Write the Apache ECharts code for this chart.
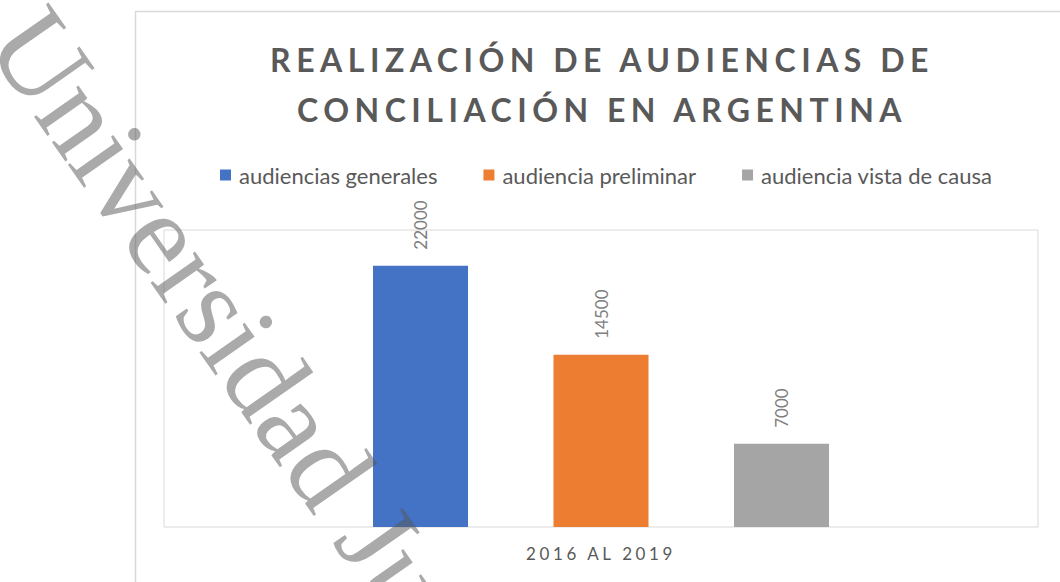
<!DOCTYPE html>
<html>
<head>
<meta charset="utf-8">
<script src="https://cdn.jsdelivr.net/npm/echarts@6/dist/echarts.min.js"></script>
<style>
html,body{margin:0;padding:0;background:#fff;}
#chart{width:1060px;height:582px;}
</style>
</head>
<body>
<div id="chart"></div>
<script>
var titleLines = ['REALIZACIÓN DE AUDIENCIAS DE', 'CONCILIACIÓN EN ARGENTINA'];
var categories = ['2016 AL 2019'];
var seriesNames = ['audiencias generales', 'audiencia preliminar', 'audiencia vista de causa'];
var valuesGenerales = [22000];
var valuesPreliminar = [14500];
var valuesVistaCausa = [7000];
var seriesColors = ['#4472C4', '#ED7D31', '#A5A5A5'];
var watermarkText = 'Universidad Ju';

var chart = echarts.init(document.getElementById('chart'), null, {renderer: 'svg'});

var seriesValues = [valuesGenerales, valuesPreliminar, valuesVistaCausa];
var series = seriesNames.map(function (name, i) {
  return {
    name: name,
    type: 'bar',
    data: seriesValues[i],
    barWidth: 95,
    barGap: '90%',
    itemStyle: {color: seriesColors[i]},
    label: {
      show: true,
      position: 'top',
      rotate: 90,
      align: 'left',
      verticalAlign: 'middle',
      distance: 16,
      color: '#7f7f7f',
      fontFamily: 'Lato',
      fontSize: 17
    }
  };
});

var option = {
  animation: false,
  backgroundColor: '#ffffff',
  title: {
    text: titleLines.join('\n'),
    left: 597,
    textAlign: 'center',
    top: 29,
    textStyle: {
      fontFamily: 'Lato',
      fontWeight: 'bold',
      fontSize: 32,
      lineHeight: 50,
      color: '#595959'
    }
  },
  legend: {
    data: seriesNames,
    left: 215,
    top: 159,
    itemWidth: 11,
    itemHeight: 11,
    itemGap: 46,
    icon: 'rect',
    textStyle: {fontFamily: 'Lato', fontSize: 22, color: '#595959', padding: [0, 0, 0, 3]}
  },
  grid: {
    left: 164,
    right: 22,
    top: 230,
    bottom: 55,
    show: true,
    borderColor: '#d9d9d9',
    borderWidth: 1,
    containLabel: false
  },
  xAxis: {
    type: 'category',
    data: categories,
    axisLine: {show: false},
    axisTick: {show: false},
    axisLabel: {color: '#595959', fontFamily: 'Lato', fontSize: 17, margin: 18}
  },
  yAxis: {
    type: 'value',
    min: 0,
    max: 25000,
    show: false,
    splitLine: {show: false}
  },
  graphic: [
    {
      type: 'rect',
      shape: {x: 135.5, y: 11.5, width: 1000, height: 700},
      style: {fill: 'none', stroke: '#d9d9d9', lineWidth: 1.5},
      z: -10
    },
    {
      type: 'text',
      x: 16,
      y: 22,
      rotation: -55 * Math.PI / 180,
      z: 100,
      style: {
        text: watermarkText,
        font: '118px "Liberation Serif"',
        fill: 'rgba(85,85,85,0.5)',
        textAlign: 'left',
        textVerticalAlign: 'middle'
      }
    }
  ],
  series: series
};

chart.setOption(option);

var spacingMap = {};
spacingMap[titleLines[0]] = '5.5px';
spacingMap[titleLines[1]] = '5.5px';
spacingMap[categories[0]] = '3.6px';
function applySpacing() {
  var texts = document.querySelectorAll('#chart text');
  texts.forEach(function (t) {
    var s = spacingMap[t.textContent];
    if (s) { t.style.letterSpacing = s; }
  });
}
chart.on('finished', applySpacing);
setTimeout(applySpacing, 0);
</script>
</body>
</html>
